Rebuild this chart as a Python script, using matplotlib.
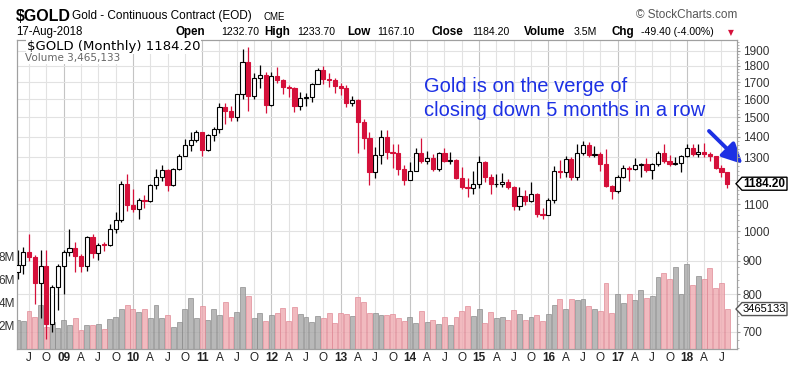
import numpy as np
import pandas as pd
import matplotlib
matplotlib.use("Agg")
import matplotlib.pyplot as plt
import matplotlib.transforms as mtransforms
from matplotlib.patches import Polygon
from matplotlib.ticker import FixedLocator, NullFormatter

plt.rcParams['font.family'] = ['Liberation Sans', 'DejaVu Sans']

# monthly bars, May 2008 .. Aug 2018
months = pd.date_range('2008-05-01', '2018-08-01', freq='MS')

opens = [865, 888, 930, 914, 833, 884, 718, 819,
         884, 928, 942, 916, 883, 979, 927, 955, 953, 1008, 1040, 1182,
         1097, 1081, 1118, 1113, 1180, 1213, 1245, 1180, 1248, 1308, 1357, 1385,
         1421, 1333, 1410, 1439, 1556, 1536, 1502, 1628, 1825, 1620, 1725, 1746,
         1566, 1738, 1711, 1669, 1664, 1560, 1604, 1610, 1687, 1773, 1719, 1712,
         1675, 1663, 1578, 1595, 1476, 1393, 1234, 1312, 1396, 1327, 1323, 1250,
         1202, 1240, 1321, 1284, 1296, 1246, 1322, 1282, 1287, 1210, 1171, 1167,
         1184, 1279, 1213, 1183, 1184, 1190, 1172, 1095, 1132, 1115, 1142, 1064,
         1061, 1116, 1238, 1234, 1291, 1214, 1322, 1357, 1311, 1316, 1272, 1173,
         1152, 1212, 1252, 1249, 1267, 1269, 1242, 1269, 1322, 1284, 1271, 1275,
         1309, 1345, 1318, 1327, 1316, 1305, 1254, 1232.7]
highs = [936, 947, 989, 919, 935, 935, 826, 890,
         936, 1007, 962, 922, 982, 991, 960, 964, 1025, 1070, 1195, 1227,
         1162, 1127, 1139, 1181, 1249, 1266, 1248, 1252, 1315, 1388, 1424, 1432,
         1424, 1413, 1447, 1576, 1577, 1560, 1632, 1912, 1923, 1755, 1804, 1764,
         1764, 1792, 1719, 1680, 1671, 1640, 1634, 1693, 1790, 1798, 1755, 1725,
         1697, 1681, 1617, 1599, 1488, 1424, 1348, 1434, 1434, 1362, 1362, 1267,
         1280, 1345, 1392, 1331, 1315, 1325, 1346, 1325, 1292, 1256, 1208, 1240,
         1307, 1286, 1224, 1224, 1232, 1205, 1175, 1170, 1157, 1192, 1147, 1088,
         1127, 1263, 1287, 1306, 1304, 1362, 1377, 1375, 1352, 1326, 1338, 1180,
         1222, 1264, 1262, 1297, 1273, 1298, 1276, 1331, 1362, 1310, 1300, 1312,
         1366, 1362, 1365, 1369, 1326, 1309, 1266, 1233.7]
lows = [845, 858, 900, 773, 735, 681, 700, 757,
        801, 917, 865, 865, 868, 908, 904, 931, 950, 994, 1033, 1075,
        1072, 1045, 1088, 1108, 1162, 1196, 1155, 1176, 1243, 1305, 1331, 1374,
        1308, 1330, 1380, 1417, 1462, 1478, 1478, 1603, 1535, 1600, 1667, 1523,
        1562, 1693, 1627, 1611, 1527, 1540, 1562, 1582, 1686, 1690, 1672, 1636,
        1626, 1555, 1562, 1321, 1338, 1180, 1207, 1270, 1292, 1251, 1221, 1180,
        1200, 1238, 1277, 1268, 1240, 1240, 1281, 1272, 1204, 1161, 1131, 1142,
        1167, 1192, 1142, 1170, 1170, 1162, 1077, 1080, 1098, 1110, 1052, 1046,
        1060, 1107, 1208, 1212, 1199, 1200, 1310, 1302, 1303, 1241, 1171, 1122,
        1146, 1208, 1195, 1244, 1215, 1236, 1204, 1262, 1277, 1260, 1264, 1236,
        1303, 1307, 1303, 1302, 1282, 1247, 1211, 1167.1]
closes = [888, 930, 914, 833, 884, 718, 819, 884,
          928, 942, 916, 883, 979, 927, 954, 953, 1008, 1040, 1182, 1097,
          1081, 1118, 1113, 1180, 1213, 1245, 1180, 1248, 1308, 1357, 1385, 1421,
          1333, 1410, 1439, 1556, 1536, 1502, 1628, 1825, 1620, 1725, 1746, 1566,
          1738, 1711, 1669, 1664, 1560, 1604, 1610, 1687, 1773, 1719, 1712, 1675,
          1663, 1578, 1595, 1476, 1393, 1234, 1312, 1396, 1327, 1323, 1250, 1202,
          1240, 1321, 1284, 1296, 1246, 1322, 1282, 1287, 1210, 1171, 1167, 1184,
          1279, 1213, 1183, 1184, 1190, 1172, 1095, 1132, 1115, 1142, 1064, 1061,
          1116, 1238, 1234, 1291, 1214, 1322, 1357, 1311, 1316, 1272, 1173, 1152,
          1212, 1252, 1249, 1267, 1269, 1242, 1269, 1322, 1284, 1271, 1275, 1309,
          1345, 1318, 1327, 1316, 1305, 1254, 1233.6, 1184.2]
prior_close = 871
# volume in millions
volumes = [2.5, 2.4, 3.3, 2.8, 3.8, 1.9, 2.3, 1.8,
           2.5, 2.1, 2.7, 1.65, 2.1, 2.1, 2.2, 1.7, 2.6, 2.8, 3.45, 3.8,
           3.45, 3.25, 3.45, 2.7, 3.8, 2.7, 2.95, 1.9, 2.3, 3.45, 4.4, 2.7,
           3.7, 2.5, 3.45, 2.95, 4.05, 2.8, 3.25, 5.4, 4.6, 2.65, 3.1, 2.45,
           2.95, 3.1, 3.55, 2.45, 3.65, 3.05, 2.75, 2.35, 2.85, 2.65, 3.15, 2.25,
           3.15, 3.05, 2.85, 4.5, 4.05, 3.15, 3.15, 2.95, 2.95, 3.05, 2.65, 2.45,
           2.75, 2.25, 3.3, 2.35, 2.55, 2.15, 2.75, 2.05, 2.75, 3.3, 3.7, 2.85,
           3.45, 2.25, 3.25, 2.65, 2.75, 2.55, 3.35, 3.05, 2.55, 2.75, 2.95, 2.45,
           3.05, 3.85, 4.35, 3.45, 4.35, 4.25, 4.35, 3.75, 3.45, 3.3, 5.7, 3.15,
           4.75, 3.95, 4.75, 4.25, 5.15, 4.45, 4.6, 6.25, 6.6, 6.05, 7.15, 4.75,
           7.35, 5.55, 6.35, 6.05, 7.05, 5.3, 5.75, 3.465133]

price_ticks = [700, 800, 900, 1000, 1100, 1200, 1300, 1400, 1500, 1600, 1700, 1800, 1900]
vol_ticks = [2, 4, 6, 8]
vol_labels = ['2M', '4M', '6M', '8M']
quarter_letters = {1: None, 4: 'A', 7: 'J', 10: 'O'}

o = np.array(opens, float)
h = np.array(highs, float)
l = np.array(lows, float)
c = np.array(closes, float)
v = np.array(volumes) * 1e6
x = np.arange(len(months))
prev = np.concatenate([[prior_close], c[:-1]])

RED = '#d5103a'
BLUE = '#1c30e4'
W, H = 800, 373

fig = plt.figure(figsize=(8, 3.73), dpi=100)
L, R, T, B = 16.7, 737.3, 40, 349
ax = fig.add_axes([L / W, 1 - B / H, (R - L) / W, (B - T) / H])
ax2 = ax.twinx()
ax.set_xlim(-0.14, 124.75)
ax.set_ylim(0, 26.8e6)
ax2.set_yscale('log')
ax2.set_ylim(658, 1974)

# grid
ticks_x, labels_x, years_x = [], [], []
for i, m in enumerate(months):
    if m.month in quarter_letters:
        ticks_x.append(i)
        if m.month == 1:
            labels_x.append(m.strftime('%y'))
            years_x.append(i)
        else:
            labels_x.append(quarter_letters[m.month])
for t in ticks_x:
    ax.axvline(t, color='#c4c4c4' if t in years_x else '#e2e2e2', lw=0.8, zorder=0)
hgrid = mtransforms.blended_transform_factory(ax.transAxes, ax2.transData)
for p in price_ticks:
    ax.plot([0, 1], [p, p], transform=hgrid, color='#e2e2e2', lw=0.8, zorder=0)

# volume
up_v = c >= prev
ax.bar(x[up_v], v[up_v], width=0.85, color='#a7a7a7', edgecolor='#8a8a8a',
       lw=0.6, alpha=0.8, zorder=1)
ax.bar(x[~up_v], v[~up_v], width=0.85, color='#eea9b0', edgecolor='#e08894',
       lw=0.6, alpha=0.8, zorder=1)

# candles
up = c >= o
ax2.vlines(x[up], l[up], h[up], color='black', lw=0.9, zorder=2)
ax2.vlines(x[~up], l[~up], h[~up], color=RED, lw=0.9, zorder=2)
ax2.bar(x[up], c[up] - o[up], bottom=o[up], width=0.72, facecolor='white',
        edgecolor='black', lw=0.8, zorder=3)
ax2.bar(x[~up], o[~up] - c[~up], bottom=c[~up], width=0.72, facecolor=RED,
        edgecolor=RED, lw=0.8, zorder=3)

# axes styling
ax.set_xticks(ticks_x)
ax.set_xticklabels(labels_x)
for lab, t in zip(ax.get_xticklabels(), ticks_x):
    if t in years_x:
        lab.set_fontweight('bold')
ax.tick_params(axis='x', length=0, pad=2, labelsize=8.5, labelcolor='#222222')
ax.set_yticks(np.array(vol_ticks) * 1e6)
ax.set_yticklabels(vol_labels)
ax.tick_params(axis='y', length=0, pad=1, labelsize=8.5, labelcolor='#333333')

# the 1200 label sits under the last-price tag, so it stays unlabelled
ax2.yaxis.set_major_locator(FixedLocator(price_ticks))
ax2.set_yticklabels(['' if p == 1200 else str(p) for p in price_ticks])
ax2.yaxis.set_minor_locator(FixedLocator(np.arange(660, 1980, 20)))
ax2.yaxis.set_minor_formatter(NullFormatter())
ax2.tick_params(axis='y', which='major', length=2, pad=2, labelsize=8.5,
                color='#999999', labelcolor='#333333')
ax2.tick_params(axis='y', which='minor', length=1.5, color='#aaaaaa')
for a in (ax, ax2):
    for s in a.spines.values():
        s.set_color('#a0a0a0')
        s.set_linewidth(0.8)


def ftext(px, py, s, **kw):
    kw.setdefault('va', 'center')
    return fig.text(px / W, 1 - py / H, s, **kw)


# header
ftext(16, 16.5, '$GOLD', fontsize=11.5, fontweight='bold')
ftext(72, 16.5, 'Gold - Continuous Contract (EOD)', fontsize=8.5)
ftext(264, 17, 'CME', fontsize=7)
ftext(737, 15.5, '\u00a9 StockCharts.com', fontsize=8.5, color='#555555', ha='right')
ftext(16, 32.3, months[-1].strftime('17-%b-%Y'), fontsize=8.3)

chg = c[-1] - c[-2]
pieces = [(176, 'Open', True), (221, f'{o[-1]:.2f}', False),
          (264, 'High', True), (297, f'{h[-1]:.2f}', False),
          (347, 'Low', True), (377, f'{l[-1]:.2f}', False),
          (432, 'Close', True), (472, f'{c[-1]:.2f}', False),
          (524, 'Volume', True), (574, f'{v[-1] / 1e6:.1f}M', False),
          (612, 'Chg', True), (641, f'{chg:.2f} ({chg / c[-2] * 100:.2f}%)', False)]
for px, s, bold in pieces:
    ftext(px, 32.3, s, fontsize=8.4 if bold else 7.6,
          fontweight='bold' if bold else 'normal')
ftext(728, 32.5, '\u25bc', fontsize=5.5, color=RED, family='DejaVu Sans')

# in-plot legend
ftext(27, 46.5, f'$GOLD (Monthly) {c[-1]:.2f}', fontsize=9.5, family='DejaVu Sans',
      bbox=dict(facecolor='white', edgecolor='none', pad=0.5))
ftext(25, 58.3, f'Volume {v[-1]:,.0f}', fontsize=7.5, family='DejaVu Sans',
      color='#666666', bbox=dict(facecolor='white', edgecolor='none', pad=0.3))

# comment + arrow
ftext(424, 87, 'Gold is on the verge of', fontsize=14.5, color=BLUE)
ftext(424, 110, 'closing down 5 months in a row', fontsize=14.5, color=BLUE)
ax.annotate('', xy=(742.5, H - 164), xycoords='figure pixels',
            xytext=(709, H - 131), textcoords='figure pixels',
            arrowprops=dict(arrowstyle='-|>,head_length=1.2,head_width=0.6',
                            color=BLUE, lw=2.8, shrinkA=0, shrinkB=0),
            annotation_clip=False)

# right-edge value tags
ident = mtransforms.IdentityTransform()


def tag(yc, s, bold, edge):
    pts = [(736, yc), (742, yc + 6.5), (787, yc + 6.5), (787, yc - 6.5), (742, yc - 6.5)]
    fig.add_artist(Polygon(pts, closed=True, facecolor='white', edgecolor=edge,
                           lw=1.0, transform=ident, zorder=5))
    fig.text(764.5, yc, s, transform=ident, ha='center', va='center',
             fontsize=8.5 if bold else 8, fontweight='bold' if bold else 'normal',
             zorder=6)


y_price = ax2.transData.transform((0, c[-1]))[1]
y_vol = ax.transData.transform((0, v[-1]))[1]
tag(y_price, f'{c[-1]:.2f}', True, 'black')
tag(y_vol, f'{v[-1]:.0f}', False, '#555555')

fig.savefig('out.png', dpi=100)
